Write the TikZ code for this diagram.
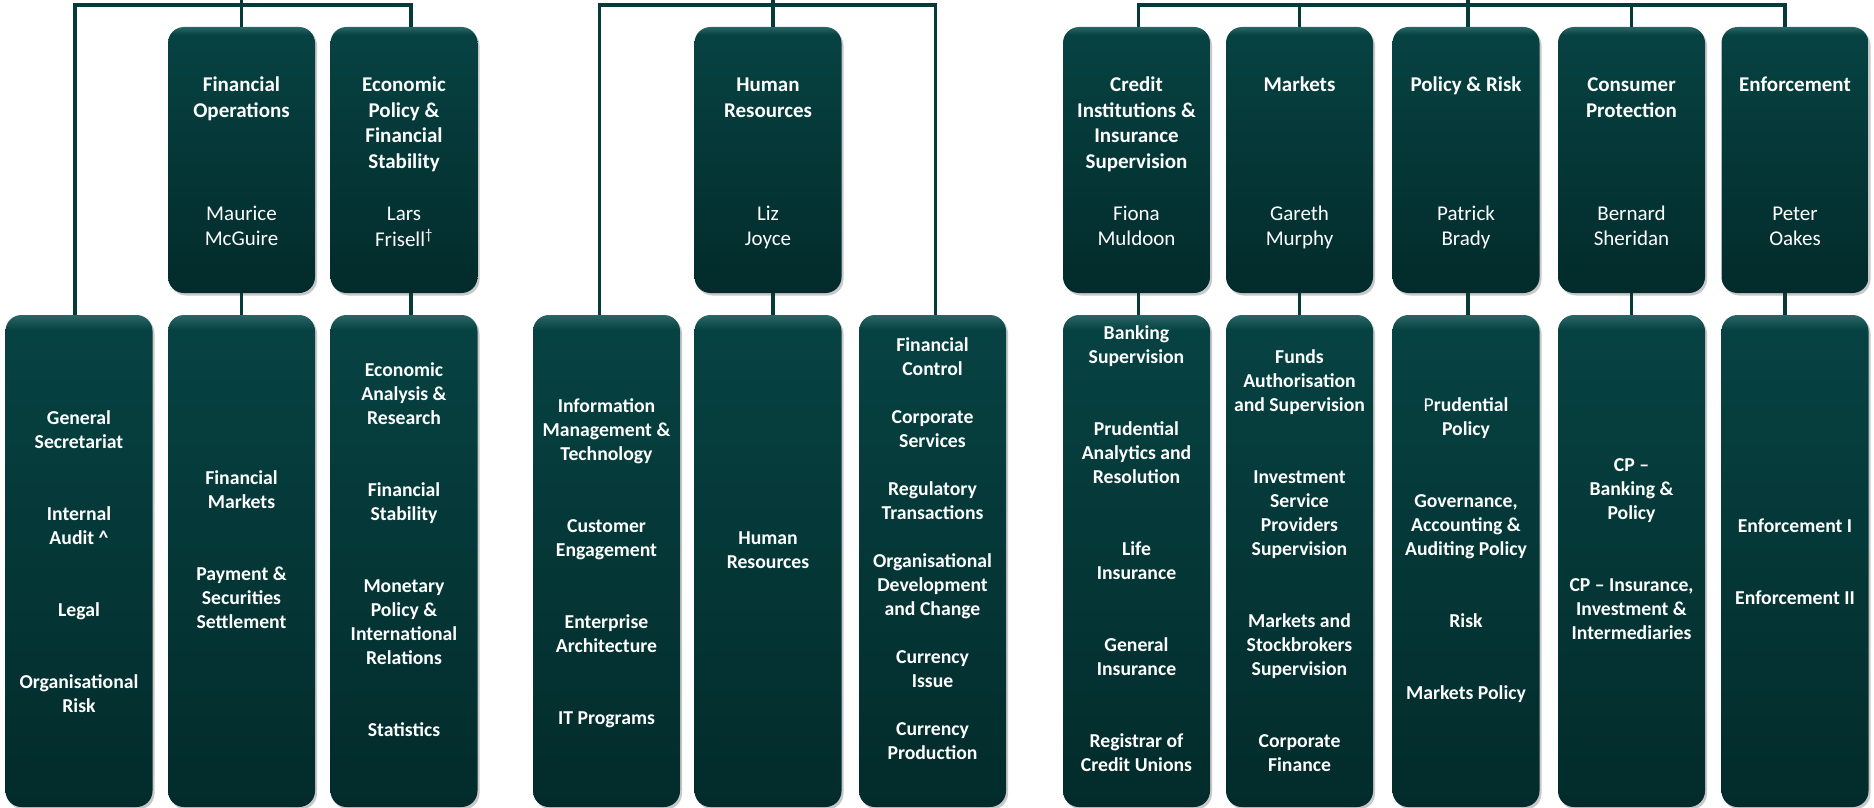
\documentclass[tikz,border=0pt]{standalone}
\usepackage{fontspec}
\setmainfont{Carlito}
\usetikzlibrary{shadows}
\definecolor{boxtop}{HTML}{074242}
\definecolor{boxbot}{HTML}{032B2B}
\definecolor{boxedge}{HTML}{2B6666}
\definecolor{linec}{HTML}{093A3A}
\pgfdeclareverticalshading{unitshade}{100bp}{color(0bp)=(boxbot); color(25bp)=(boxbot); color(73.5bp)=(boxtop); color(75bp)=(boxedge); color(100bp)=(boxedge)}
\tikzset{
  unitbox/.style={rectangle, rounded corners=16pt, shading=unitshade, draw=none,
    minimum width=147pt, inner sep=0pt,
    drop shadow={shadow xshift=2pt, shadow yshift=-2.5pt, opacity=0.3, fill=black!70}},
  headbox/.style={unitbox, minimum height=266pt},
  subbox/.style={unitbox, minimum height=492pt},
  conn/.style={draw=linec, line width=3.5pt},
  title/.style={text=white, font=\fontsize{21}{25.6}\selectfont\bfseries, align=center, anchor=north, inner sep=0pt},
  person/.style={text=white, font=\fontsize{21}{25.2}\selectfont, align=center, anchor=north, inner sep=0pt},
  items/.style={text=white, font=\fontsize{19.7}{24}\selectfont\bfseries, align=center, anchor=north, inner sep=0pt},
}
\begin{document}
\begin{tikzpicture}[x=1pt,y=-1pt]
\fill[white] (0,0) rectangle (1874,808);
\useasboundingbox (0,0) rectangle (1874,808);

% ---------- head boxes ----------
\node[headbox] (fo) at (241.5,160) {};
\node[headbox] (ec) at (404,160) {};
\node[headbox] (hr) at (768,160) {};
\node[headbox] (ci) at (1136.5,160) {};
\node[headbox] (mk) at (1299.5,160) {};
\node[headbox] (pr) at (1466,160) {};
\node[headbox] (cp) at (1631.5,160) {};
\node[headbox] (en) at (1795,160) {};

% ---------- sub boxes ----------
\node[subbox] (gs) at (79,561) {};
\node[subbox] (fm) at (241.5,561) {};
\node[subbox] (ea) at (404,561) {};
\node[subbox] (im) at (606.5,561) {};
\node[subbox] (hrb) at (768,561) {};
\node[subbox] (fc) at (932.5,561) {};
\node[subbox] (bs) at (1136.5,561) {};
\node[subbox] (fu) at (1299.5,561) {};
\node[subbox] (pp) at (1466,561) {};
\node[subbox] (cpb) at (1631.5,561) {};
\node[subbox] (enb) at (1795,561) {};

% ---------- head texts ----------
\node[title] (fo-t) at (241.5,73.5) {\strut Financial\\Operations};
\node[person] (fo-n) at (241.5,202.5) {\strut Maurice\\McGuire};
\node[title] (ec-t) at (404,73.5) {\strut Economic\\Policy \&\\Financial\\Stability};
\node[person] (ec-n) at (404,202.5) {\strut Lars\\Frisell\textsuperscript{†}};
\node[title] (hr-t) at (768,73.5) {\strut Human\\Resources};
\node[person] (hr-n) at (768,202.5) {\strut Liz\\Joyce};
\node[title] (ci-t) at (1136.5,73.5) {\strut Credit\\Institutions \&\\Insurance\\Supervision};
\node[person] (ci-n) at (1136.5,202.5) {\strut Fiona\\Muldoon};
\node[title] (mk-t) at (1299.5,73.5) {\strut Markets};
\node[person] (mk-n) at (1299.5,202.5) {\strut Gareth\\Murphy};
\node[title] (pr-t) at (1466,73.5) {\strut Policy \& Risk};
\node[person] (pr-n) at (1466,202.5) {\strut Patrick\\Brady};
\node[title] (cp-t) at (1631.5,73.5) {\strut Consumer\\Protection};
\node[person] (cp-n) at (1631.5,202.5) {\strut Bernard\\Sheridan};
\node[title] (en-t) at (1795,73.5) {\strut Enforcement};
\node[person] (en-n) at (1795,202.5) {\strut Peter\\Oakes};

% ---------- sub texts ----------
\node[items] (gs-t) at (79,407.2) {\strut General\\Secretariat\\[48pt]Internal\\Audit \textasciicircum\\[48pt]Legal\\[48pt]Organisational\\Risk};
\node[items] (fm-t) at (241.5,467.2) {\strut Financial\\Markets\\[48pt]Payment \&\\Securities\\Settlement};
\node[items] (ea-t) at (404,359.2) {\strut Economic\\Analysis \&\\Research\\[48pt]Financial\\Stability\\[48pt]Monetary\\Policy \&\\International\\Relations\\[48pt]Statistics};
\node[items] (im-t) at (606.5,395.2) {\strut Information\\Management \&\\Technology\\[48pt]Customer\\Engagement\\[48pt]Enterprise\\Architecture\\[48pt]IT Programs};
\node[items] (hrb-t) at (768,527.2) {\strut Human\\Resources};
\node[items] (fc-t) at (932.5,334.2) {\strut Financial\\Control\\[24pt]Corporate\\Services\\[24pt]Regulatory\\Transactions\\[24pt]Organisational\\Development\\and Change\\[24pt]Currency\\Issue\\[24pt]Currency\\Production};
\node[items] (bs-t) at (1136.5,322.2) {\strut Banking\\Supervision\\[48pt]Prudential\\Analytics and\\Resolution\\[48pt]Life\\Insurance\\[48pt]General\\Insurance\\[48pt]Registrar of\\Credit Unions};
\node[items] (fu-t) at (1299.5,346.2) {\strut Funds\\Authorisation\\and Supervision\\[48pt]Investment\\Service\\Providers\\Supervision\\[48pt]Markets and\\Stockbrokers\\Supervision\\[48pt]Corporate\\Finance};
\node[items] (pp-t) at (1466,394.2) {\strut {\mdseries P}rudential\\Policy\\[48pt]Governance,\\Accounting \&\\Auditing Policy\\[48pt]Risk\\[48pt]Markets Policy};
\node[items] (cpb-t) at (1631.5,454.2) {\strut CP –\\Banking \&\\Policy\\[48pt]CP – Insurance,\\Investment \&\\Intermediaries};
\node[items] (enb-t) at (1795,515.2) {\strut Enforcement I\\[48pt]Enforcement II};

% ---------- connectors: left group ----------
\coordinate (topL) at (241.5,0);
\coordinate (busL) at (241.5,5);
\draw[conn] ([xshift=-4pt]gs.north) |- (busL) -| ([xshift=7pt]ec.north);
\draw[conn] (topL) -- (fo.north);
\draw[conn] (fo.south) -- (fm.north);
\draw[conn] ([xshift=7pt]ec.south) -- ([xshift=7pt]ea.north);

% ---------- connectors: middle group ----------
\coordinate (topM) at (773,0);
\coordinate (busM) at (773,5);
\draw[conn] ([xshift=-7pt]im.north) |- (busM) -| ([xshift=3pt]fc.north);
\draw[conn] (topM) -- (hr.north -| topM);
\draw[conn] (hr.south -| topM) -- (hrb.north -| topM);

% ---------- connectors: right group ----------
\coordinate (topR) at (1468,0);
\coordinate (busR) at (1468,5);
\draw[conn] ([xshift=2pt]ci.north) |- (busR) -| ([xshift=-10pt]en.north);
\draw[conn] (topR) -- (pr.north -| topR);
\draw[conn] (mk.north) -- (mk.north |- busR);
\draw[conn] (cp.north) -- (cp.north |- busR);
\draw[conn] ([xshift=2pt]ci.south) -- ([xshift=2pt]bs.north);
\draw[conn] (mk.south) -- (fu.north);
\draw[conn] (pr.south -| topR) -- (pp.north -| topR);
\draw[conn] (cp.south) -- (cpb.north);
\draw[conn] ([xshift=-10pt]en.south) -- ([xshift=-10pt]enb.north);
\end{tikzpicture}
\end{document}
